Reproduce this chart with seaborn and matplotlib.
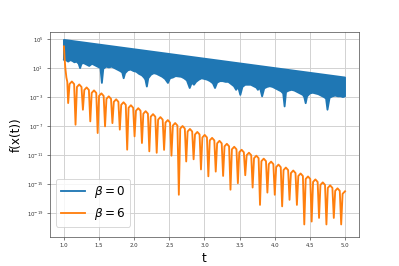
import numpy as np
import pandas as pd
import matplotlib
matplotlib.use("Agg")
import matplotlib.pyplot as plt
import seaborn as sns
from matplotlib.ticker import NullLocator

# values are log10 of f(x(t))

# beta = 0: dense oscillation, drawn as its upper and lower envelope
blue_hi_t = [1.0, 5.0]
blue_hi_v = [4.9, -0.3]
blue_lo_t = [1.00, 1.03, 1.06, 1.09, 1.12, 1.15, 1.18, 1.21, 1.23, 1.25,
             1.28, 1.32, 1.36, 1.40, 1.44, 1.48, 1.52, 1.54, 1.56, 1.60,
             1.64, 1.68, 1.72, 1.76, 1.80, 1.83, 1.85, 1.87, 1.91, 1.95,
             1.99, 2.03, 2.07, 2.11, 2.14, 2.16, 2.18, 2.20, 2.24, 2.28,
             2.32, 2.36, 2.40, 2.44, 2.48, 2.51, 2.55, 2.59, 2.63, 2.67,
             2.71, 2.75, 2.79, 2.82, 2.85, 2.88, 2.92, 2.96, 3.00, 3.04,
             3.08, 3.12, 3.15, 3.18, 3.22, 3.26, 3.30, 3.34, 3.38, 3.42,
             3.45, 3.48, 3.51, 3.54, 3.58, 3.62, 3.66, 3.70, 3.74, 3.76,
             3.79, 3.82, 3.85, 3.89, 3.93, 3.97, 4.01, 4.05, 4.09, 4.12,
             4.14, 4.16, 4.20, 4.24, 4.28, 4.32, 4.36, 4.40, 4.42, 4.44,
             4.46, 4.50, 4.54, 4.58, 4.62, 4.66, 4.70, 4.73, 4.75, 4.78,
             4.82, 4.86, 4.90, 4.94, 4.97, 5.00]
blue_lo_v = [2.2, 2.1, 1.9, 2.1, 2.0, 1.8, 1.9, 1.6, 1.0, 1.6,
             1.7, 1.5, 1.3, 1.6, 1.4, 1.2, 1.0, -1.05, 0.9, 1.2,
             1.1, 1.2, 1.0, 0.8, 0.6, 0.4, -0.4, 0.3, 0.7, 0.8,
             0.6, 0.5, 0.2, 0.0, -0.3, -0.6, -1.55, -0.4, 0.1, 0.3,
             0.2, 0.0, -0.2, -0.5, -1.05, -0.4, -0.3, -0.1, -0.15, -0.2,
             -0.4, -0.7, -1.75, -1.0, -1.3, -0.9, -0.6, -0.4, -0.5, -0.6,
             -0.8, -1.1, -1.75, -1.0, -0.8, -0.8, -0.9, -0.9, -1.2, -1.5,
             -2.0, -1.6, -2.7, -1.6, -1.3, -1.3, -1.3, -1.5, -1.7, -2.0,
             -1.7, -2.9, -1.8, -1.6, -1.5, -1.6, -1.8, -2.0, -2.2, -2.5,
             -4.3, -2.3, -2.1, -2.0, -2.1, -2.3, -2.5, -2.7, -3.0, -3.85,
             -2.9, -2.5, -2.4, -2.5, -2.6, -2.8, -3.0, -3.2, -4.75, -3.1,
             -2.9, -2.8, -2.9, -2.9, -3.0, -2.9]

# beta = 6: one row per arch -> dip, rise, top, fall
orange_t = [1.000, 1.010, 1.020, 1.035, 1.048,
            1.060, 1.080, 1.113, 1.145,
            1.165, 1.185, 1.218, 1.250,
            1.270, 1.290, 1.323, 1.355,
            1.375, 1.395, 1.428, 1.460,
            1.480, 1.500, 1.533, 1.565,
            1.585, 1.605, 1.638, 1.670,
            1.690, 1.710, 1.743, 1.775,
            1.795, 1.815, 1.848, 1.880,
            1.900, 1.920, 1.953, 1.985,
            2.005, 2.025, 2.058, 2.090,
            2.110, 2.130, 2.163, 2.195,
            2.215, 2.235, 2.268, 2.300,
            2.320, 2.340, 2.373, 2.405,
            2.425, 2.445, 2.478, 2.510,
            2.530, 2.550, 2.583, 2.615,
            2.635, 2.655, 2.688, 2.720,
            2.740, 2.760, 2.793, 2.825,
            2.845, 2.865, 2.898, 2.930,
            2.950, 2.970, 3.003, 3.035,
            3.055, 3.075, 3.108, 3.140,
            3.160, 3.180, 3.213, 3.245,
            3.265, 3.285, 3.318, 3.350,
            3.370, 3.390, 3.423, 3.455,
            3.475, 3.495, 3.528, 3.560,
            3.580, 3.600, 3.633, 3.665,
            3.685, 3.705, 3.738, 3.770,
            3.790, 3.810, 3.843, 3.875,
            3.895, 3.915, 3.948, 3.980,
            4.000, 4.020, 4.053, 4.085,
            4.105, 4.125, 4.158, 4.190,
            4.210, 4.230, 4.263, 4.295,
            4.315, 4.335, 4.368, 4.400,
            4.420, 4.440, 4.473, 4.505,
            4.525, 4.545, 4.578, 4.610,
            4.630, 4.650, 4.683, 4.715,
            4.735, 4.755, 4.788, 4.820,
            4.840, 4.860, 4.893, 4.925,
            4.945, 4.965, 5.000]
orange_v = [4.0, 2.3, 1.0, -0.3, -0.9,
            -3.83, -1.20, -0.85, -1.20,
            -6.82, -1.61, -1.26, -1.61,
            -4.75, -2.02, -1.67, -2.02,
            -6.36, -2.43, -2.08, -2.43,
            -7.97, -2.84, -2.49, -2.84,
            -7.05, -3.25, -2.90, -3.25,
            -6.60, -3.66, -3.31, -3.66,
            -7.50, -4.07, -3.72, -4.07,
            -10.27, -4.48, -4.13, -4.48,
            -8.43, -4.89, -4.54, -4.89,
            -9.35, -5.30, -4.95, -5.30,
            -10.50, -5.71, -5.36, -5.71,
            -10.70, -6.12, -5.77, -6.12,
            -10.30, -6.53, -6.18, -6.53,
            -11.10, -6.94, -6.59, -6.94,
            -16.50, -7.35, -7.00, -7.35,
            -11.90, -7.76, -7.41, -7.76,
            -11.60, -8.17, -7.82, -8.17,
            -13.00, -8.58, -8.23, -8.58,
            -13.95, -8.99, -8.64, -8.99,
            -13.30, -9.40, -9.05, -9.40,
            -13.90, -9.81, -9.46, -9.81,
            -15.80, -10.22, -9.87, -10.22,
            -14.90, -10.63, -10.28, -10.63,
            -13.80, -11.04, -10.69, -11.04,
            -15.50, -11.45, -11.10, -11.45,
            -17.90, -11.86, -11.51, -11.86,
            -16.20, -12.27, -11.92, -12.27,
            -16.50, -12.68, -12.33, -12.68,
            -18.10, -13.09, -12.74, -13.09,
            -17.20, -13.50, -13.15, -13.50,
            -17.90, -13.91, -13.56, -13.91,
            -20.60, -14.32, -13.97, -14.32,
            -20.20, -14.73, -14.38, -14.73,
            -19.70, -15.14, -14.79, -15.14,
            -20.60, -15.55, -15.20, -15.55,
            -19.70, -15.96, -15.61, -15.96,
            -20.60, -16.37, -16.02]

labels = [r"$\beta = 0$", r"$\beta = 6$"]
ytick_exp = [5, 1, -3, -7, -11, -15, -19]

blue = "#1f77b4"
orange = "#ff7f0e"

# outline of the beta=0 band: left edge, top, right edge, bottom back
band_t = [blue_lo_t[0]] + blue_hi_t + blue_lo_t[::-1]
band_v = np.array([blue_lo_v[0]] + blue_hi_v + blue_lo_v[::-1])

df = pd.concat([
    pd.DataFrame({"t": band_t, "f": 10.0 ** band_v, "beta": labels[0]}),
    pd.DataFrame({"t": orange_t, "f": 10.0 ** np.array(orange_v), "beta": labels[1]}),
], ignore_index=True)

fig, ax = plt.subplots(figsize=(6, 4), dpi=66.5)
ax.set_yscale("log")
ax.fill(band_t, 10.0 ** band_v, color=blue, lw=0, zorder=2)
sns.lineplot(data=df, x="t", y="f", hue="beta", palette=[blue, orange],
             sort=False, estimator=None, lw=2, ax=ax, zorder=2.5)

ax.set_xlim(0.8, 5.2)
ax.set_ylim(10 ** -22.3, 10 ** 6.0)
ax.set_yticks([10.0 ** e for e in ytick_exp])
ax.yaxis.set_minor_locator(NullLocator())
ax.grid(True, color="#d0d0d0", lw=1)
ax.set_axisbelow(True)
for s in ax.spines.values():
    s.set_color("#555555")
ax.tick_params(labelsize=5.8, colors="#555555", labelcolor="#333333")

ax.set_xlabel("t", fontsize=13)
ax.set_ylabel("f(x(t))", fontsize=13)
sns.move_legend(ax, "lower left", bbox_to_anchor=(0, 0.02), title=None, fontsize=13)

fig.savefig("out.png", dpi=66.5)
